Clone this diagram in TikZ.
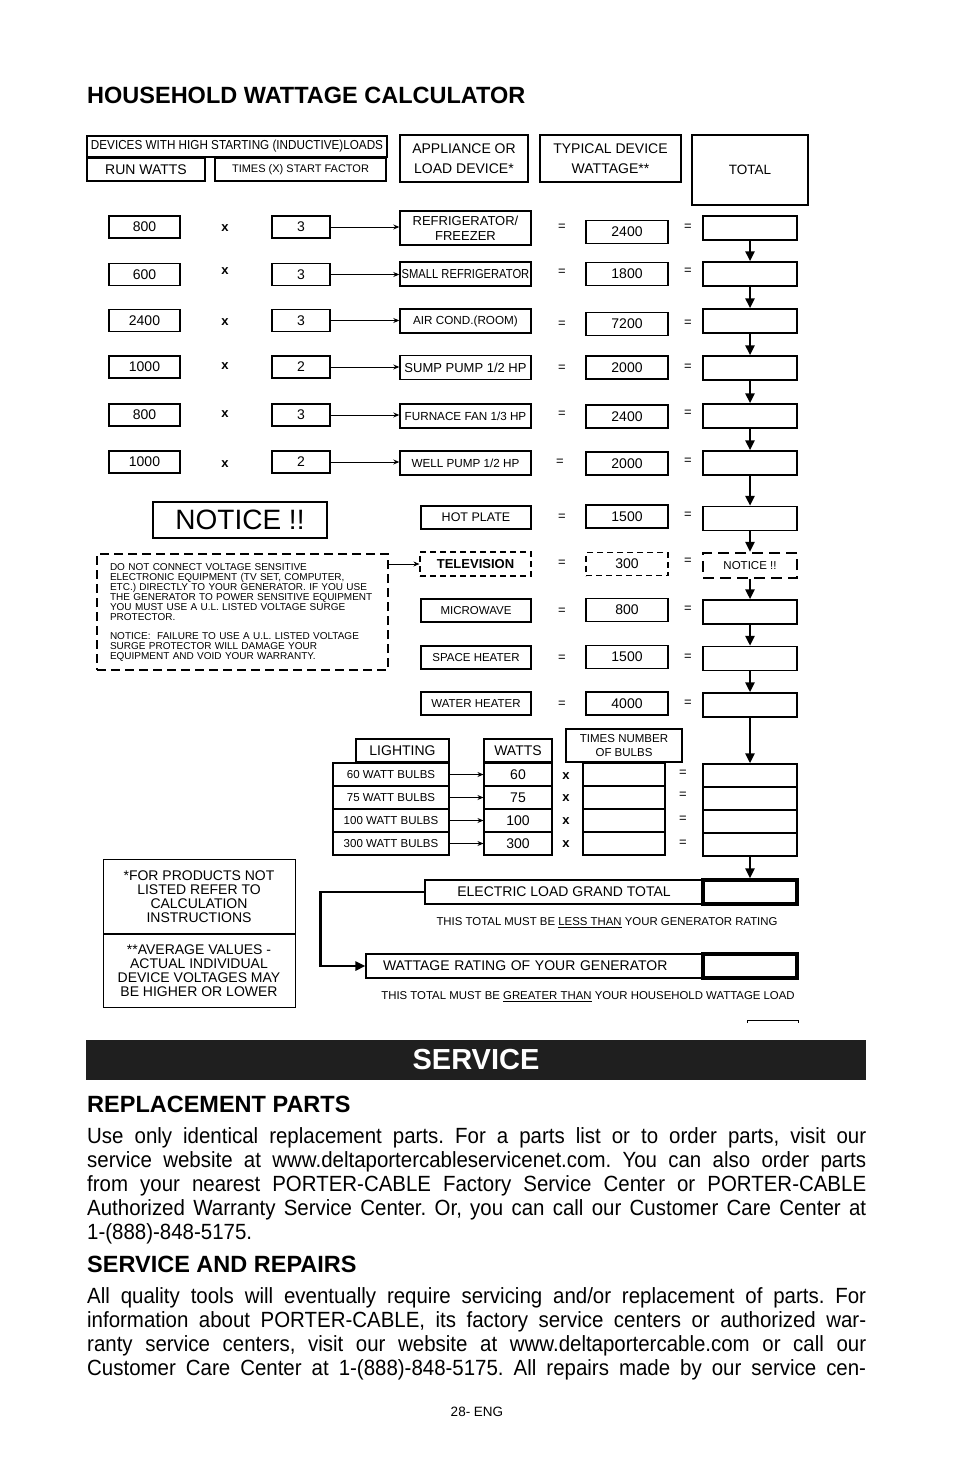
\documentclass[tikz,border=0pt]{standalone}
\usepackage{fontspec}
\setmainfont{Liberation Sans}
\newfontfamily\condfont[FakeStretch=0.93]{Liberation Sans}
\usepackage{graphicx}
\usetikzlibrary{arrows.meta, positioning}
\newcommand{\fsz}[2]{\fontsize{#1}{#2}\selectfont}
\frenchspacing
\tikzset{
  box/.style={draw, line width=1.1pt, inner sep=1pt, align=center},
  runbox/.style={box, minimum width=71pt, minimum height=22pt, font=\fsz{14}{16}},
  facbox/.style={box, minimum width=58pt, minimum height=22pt, font=\fsz{14}{16}},
  appbox/.style={box, line width=1.4pt, minimum width=131pt, minimum height=24pt, font=\fsz{11.7}{14}},
  loadbox/.style={box, line width=1.4pt, minimum width=110pt, minimum height=23pt, font=\fsz{11.5}{14}},
  wattbox/.style={box, minimum width=82pt, minimum height=23pt, font=\fsz{14}{16}},
  totbox/.style={box, line width=1.5pt, minimum width=94pt, minimum height=24pt},
  bulbbox/.style={box, minimum width=116pt, minimum height=23pt, font=\fsz{11.5}{14}},
  bwbox/.style={box, minimum width=68pt, minimum height=23pt, font=\fsz{14}{16}},
  numbox/.style={box, minimum width=82pt, minimum height=23pt},
  sign/.style={inner sep=0pt, font=\fsz{13}{13}},
  times/.style={inner sep=0pt, font=\bfseries\fsz{13}{13}},
  feed/.style={-{Stealth[length=6pt,width=5pt]}, line width=0.9pt},
  sumline/.style={-{Triangle[length=10pt,width=9pt]}, line width=2.4pt},
  tvdash/.style={dash pattern=on 6pt off 4pt},
  bodyline/.style={anchor=base west, inner sep=0pt, font=\condfont\fsz{22}{24}},
  headline/.style={anchor=base west, inner sep=0pt, font=\bfseries\fsz{23.5}{24}},
}
\begin{document}
\begin{tikzpicture}[x=1pt, y=-1pt]
    \fill[white] (0,0) rectangle (954,1475);
    \useasboundingbox (0,0) rectangle (954,1475);

    % --- TITLE ---
    \node[headline] (title) at (87,103) {HOUSEHOLD WATTAGE CALCULATOR};

    % --- COLUMN HEADERS ---
    \node[box, minimum width=300pt, minimum height=21pt, font=\fsz{13}{13}] (hdev) at (237,146.5) {\scalebox{0.9}[1]{DEVICES WITH HIGH STARTING (INDUCTIVE)LOADS}};
    \node[box, minimum width=118pt, minimum height=23pt, font=\fsz{14}{14}] (hrun) at (146,169.5) {RUN WATTS};
    \node[box, minimum width=171pt, minimum height=23pt, font=\fsz{11}{11}] (hstart) at (300.5,169.5) {TIMES (X) START FACTOR};
    \node[box, line width=1.4pt, minimum width=128pt, minimum height=47pt, font=\fsz{14}{20}] (happ) at (464,158.5) {APPLIANCE OR\\LOAD DEVICE*};
    \node[box, line width=1.4pt, minimum width=141pt, minimum height=47pt, font=\fsz{14}{20}] (hwatt) at (610.5,158.5) {TYPICAL DEVICE\\WATTAGE**};
    \node[box, line width=1.4pt, minimum width=116pt, minimum height=70pt, font=\fsz{13.5}{14}] (htot) at (750,170) {TOTAL};

    % --- INDUCTIVE LOADS ---
    % Refrigerator
    \node[runbox] (run1) at (144.5,227) {800};
    \node[times] (x1) at (225,228) {x};
    \node[facbox] (fac1) at (301,227) {3};
    \node[appbox, minimum height=34pt, font=\fsz{13}{15}] (app1) at (465.5,228) {REFRIGERATOR/\\FREEZER};
    \node[sign] (eqa1) at (562,227) {=};
    \node[wattbox] (watt1) at (627,232) {2400};
    \node[sign] (eqb1) at (688,227) {=};
    \node[totbox] (tot1) at (750,228) {};
    \draw[feed] (fac1.east) -- (fac1.east -| app1.west);

    % Small refrigerator
    \node[runbox] (run2) at (144.5,274.5) {600};
    \node[times] (x2) at (225,271) {x};
    \node[facbox] (fac2) at (301,274.5) {3};
    \node[appbox] (app2) at (465.5,274) {\scalebox{0.86}[1]{\fsz{13}{15}SMALL REFRIGERATOR}};
    \node[sign] (eqa2) at (562,272) {=};
    \node[wattbox] (watt2) at (627,274) {1800};
    \node[sign] (eqb2) at (688,271) {=};
    \node[totbox] (tot2) at (750,274) {};
    \draw[feed] (fac2.east) -- (fac2.east -| app2.west);

    % Air conditioner
    \node[runbox] (run3) at (144.5,320.5) {2400};
    \node[times] (x3) at (225,322) {x};
    \node[facbox] (fac3) at (301,320.5) {3};
    \node[appbox] (app3) at (465.5,321) {AIR COND.(ROOM)};
    \node[sign] (eqa3) at (562,324) {=};
    \node[wattbox] (watt3) at (627,324) {7200};
    \node[sign] (eqb3) at (688,323) {=};
    \node[totbox] (tot3) at (750,321) {};
    \draw[feed] (fac3.east) -- (fac3.east -| app3.west);

    % Sump pump
    \node[runbox] (run4) at (144.5,367) {1000};
    \node[times] (x4) at (225,366) {x};
    \node[facbox] (fac4) at (301,367) {2};
    \node[appbox, font=\fsz{13}{15}] (app4) at (465.5,367.5) {SUMP PUMP 1/2 HP};
    \node[sign] (eqa4) at (562,368) {=};
    \node[wattbox] (watt4) at (627,367.5) {2000};
    \node[sign] (eqb4) at (688,367) {=};
    \node[totbox] (tot4) at (750,368) {};
    \draw[feed] (fac4.east) -- (fac4.east -| app4.west);

    % Furnace fan
    \node[runbox] (run5) at (144.5,415) {800};
    \node[times] (x5) at (225,414) {x};
    \node[facbox] (fac5) at (301,415) {3};
    \node[appbox] (app5) at (465.5,416) {FURNACE FAN 1/3 HP};
    \node[sign] (eqa5) at (562,414) {=};
    \node[wattbox] (watt5) at (627,416.5) {2400};
    \node[sign] (eqb5) at (688,413) {=};
    \node[totbox] (tot5) at (750,416) {};
    \draw[feed] (fac5.east) -- (fac5.east -| app5.west);

    % Well pump
    \node[runbox] (run6) at (144.5,462) {1000};
    \node[times] (x6) at (225,464) {x};
    \node[facbox] (fac6) at (301,462) {2};
    \node[appbox] (app6) at (465.5,463) {WELL PUMP 1/2 HP};
    \node[sign] (eqa6) at (560,462) {=};
    \node[wattbox] (watt6) at (627,463.5) {2000};
    \node[sign] (eqb6) at (688,461) {=};
    \node[totbox] (tot6) at (750,463) {};
    \draw[feed] (fac6.east) -- (fac6.east -| app6.west);

    % --- RESISTIVE LOADS ---
    \node[loadbox, font=\fsz{12.5}{14}] (hot) at (476,517.5) {HOT PLATE};
    \node[sign] (eqa7) at (562,517) {=};
    \node[wattbox] (watt7) at (627,516.5) {1500};
    \node[sign] (eqb7) at (688,515) {=};
    \node[totbox] (tot7) at (750,518.5) {};

    \node[loadbox, tvdash, line width=1.1pt, minimum width=111pt, minimum height=24pt, font=\bfseries\fsz{13}{14}] (tv) at (475.5,564) {TELEVISION};
    \node[sign] (eqa8) at (562,563) {=};
    \node[wattbox, tvdash] (watt8) at (627,564) {300};
    \node[sign] (eqb8) at (688,561) {=};
    \node[totbox, line width=2.4pt, dash pattern=on 11pt off 6pt, minimum height=25pt, font=\fsz{11.5}{12}] (tot8) at (750,565.5) {NOTICE !!};

    \node[loadbox] (micro) at (476,610.5) {MICROWAVE};
    \node[sign] (eqa9) at (562,611) {=};
    \node[wattbox] (watt9) at (627,610) {800};
    \node[sign] (eqb9) at (688,609) {=};
    \node[totbox] (tot9) at (750,612) {};

    \node[loadbox] (space) at (476,657.5) {SPACE HEATER};
    \node[sign] (eqa10) at (562,658) {=};
    \node[wattbox] (watt10) at (627,657) {1500};
    \node[sign] (eqb10) at (688,657) {=};
    \node[totbox] (tot10) at (750,658.5) {};

    \node[loadbox] (water) at (476,703.5) {WATER HEATER};
    \node[sign] (eqa11) at (562,704) {=};
    \node[wattbox] (watt11) at (627,703.5) {4000};
    \node[sign] (eqb11) at (688,703) {=};
    \node[totbox] (tot11) at (750,705) {};

    % --- NOTICE ---
    \node[box, line width=1.6pt, minimum width=174pt, minimum height=36pt, font=\fsz{28}{28}] (notice) at (240,520) {NOTICE !!};
    \node[box, line width=1.6pt, dash pattern=on 9pt off 5pt, minimum width=291pt, minimum height=116pt, text width=265pt, align=left, font=\fsz{10}{10}] (warn) at (242.5,612) {DO NOT CONNECT VOLTAGE SENSITIVE\\
ELECTRONIC EQUIPMENT (TV SET, COMPUTER,\\
ETC.) DIRECTLY TO YOUR GENERATOR. IF YOU USE\\
THE GENERATOR TO POWER SENSITIVE EQUIPMENT\\
YOU MUST USE A U.L. LISTED VOLTAGE SURGE\\
PROTECTOR.\\[9pt]
NOTICE:\ \ FAILURE TO USE A U.L. LISTED VOLTAGE\\
SURGE PROTECTOR WILL DAMAGE YOUR\\
EQUIPMENT AND VOID YOUR WARRANTY.};
    \draw[feed] (warn.east |- tv.west) -- (tv.west);

    % --- LIGHTING ---
    \node[box, minimum width=93pt, minimum height=23pt, font=\fsz{14}{14}] (hlight) at (402.5,750.5) {LIGHTING};
    \node[box, minimum width=68pt, minimum height=23pt, font=\fsz{14}{14}] (hbw) at (518,750.5) {WATTS};
    \node[box, minimum width=116pt, minimum height=33pt, font=\fsz{11.5}{14}] (hnum) at (624,745.5) {TIMES NUMBER\\OF BULBS};

    \node[bulbbox] (b60) at (391,774.5) {60 WATT BULBS};
    \node[bulbbox] (b75) at (391,797.5) {75 WATT BULBS};
    \node[bulbbox] (b100) at (391,820.5) {100 WATT BULBS};
    \node[bulbbox] (b300) at (391,843.5) {300 WATT BULBS};

    \node[bwbox] (w60) at (518,774.5) {60};
    \node[bwbox] (w75) at (518,797.5) {75};
    \node[bwbox] (w100) at (518,820.5) {100};
    \node[bwbox] (w300) at (518,843.5) {300};
    \draw[feed] (b60.east) -- (w60.west);
    \draw[feed] (b75.east) -- (w75.west);
    \draw[feed] (b100.east) -- (w100.west);
    \draw[feed] (b300.east) -- (w300.west);

    \node[times] (xl1) at (566,776) {x};
    \node[times] (xl2) at (566,798) {x};
    \node[times] (xl3) at (566,821) {x};
    \node[times] (xl4) at (566,844) {x};

    \node[numbox] (n60) at (624,774.5) {};
    \node[numbox] (n75) at (624,797.5) {};
    \node[numbox] (n100) at (624,820.5) {};
    \node[numbox] (n300) at (624,843.5) {};

    \node[sign] (eql1) at (683,773) {=};
    \node[sign] (eql2) at (683,795) {=};
    \node[sign] (eql3) at (683,819) {=};
    \node[sign] (eql4) at (683,843) {=};

    \node[totbox, minimum height=23pt] (lt60) at (750,775.5) {};
    \node[totbox, minimum height=23pt] (lt75) at (750,798.5) {};
    \node[totbox, minimum height=23pt] (lt100) at (750,821.5) {};
    \node[totbox, minimum height=23pt] (lt300) at (750,844.5) {};

    % --- RUNNING TOTAL ---
    \draw[sumline] (tot1.south) -- (tot2.north);
    \draw[sumline] (tot2.south) -- (tot3.north);
    \draw[sumline] (tot3.south) -- (tot4.north);
    \draw[sumline] (tot4.south) -- (tot5.north);
    \draw[sumline] (tot5.south) -- (tot6.north);
    \draw[sumline] (tot6.south) -- (tot7.north);
    \draw[sumline] (tot7.south) -- (tot8.north);
    \draw[sumline] (tot8.south) -- (tot9.north);
    \draw[sumline] (tot9.south) -- (tot10.north);
    \draw[sumline] (tot10.south) -- (tot11.north);
    \draw[sumline] (tot11.south) -- (lt60.north);

    % --- GRAND TOTAL ---
    \node[box, minimum width=278pt, minimum height=24pt, font=\fsz{14}{14}] (gtl) at (564,892) {ELECTRIC LOAD GRAND TOTAL};
    \node[box, line width=3.2pt, minimum width=94pt, minimum height=24pt] (gtot) at (750,892) {};
    \draw[sumline] (lt300.south) -- (gtot.north);
    \node[font=\fsz{11.4}{12}] (lessnote) at (607,923) {THIS TOTAL MUST BE \underline{LESS THAN} YOUR GENERATOR RATING};

    \node[box, minimum width=337pt, minimum height=24pt, text width=303pt, align=left, font=\fsz{14}{14}] (rate) at (534.5,966) {WATTAGE RATING OF YOUR GENERATOR};
    \node[box, line width=3.2pt, minimum width=94pt, minimum height=24pt] (rtot) at (750,966) {};
    \node[font=\fsz{11.4}{12}] (morenote) at (588,997) {THIS TOTAL MUST BE \underline{GREATER THAN} YOUR HOUSEHOLD WATTAGE LOAD};
    \draw[line width=2.6pt, -{Triangle[length=10pt,width=9pt]}] (gtl.west) -- ++(-104,0) |- (rate.west);
    \draw[line width=1pt] (747,1023) -- (747,1020) -- (798,1020) -- (798,1023);

    % --- FOOTNOTES ---
    \node[box, line width=1pt, minimum width=192pt, minimum height=75pt, font=\fsz{14}{14}] (fnote) at (199,896.5) {*FOR PRODUCTS NOT\\LISTED REFER TO\\CALCULATION\\INSTRUCTIONS};
    \node[box, line width=1pt, minimum width=192pt, minimum height=74pt, font=\fsz{14}{14}] (anote) at (199,970.5) {**AVERAGE VALUES -\\ACTUAL INDIVIDUAL\\DEVICE VOLTAGES MAY\\BE HIGHER OR LOWER};

    % --- SERVICE ---
    \node[fill=black!88, minimum width=780pt, minimum height=40pt, inner sep=0pt, text=white, font=\bfseries\fsz{29}{29}] (service) at (476,1060) {SERVICE};

    \node[headline] (rphead) at (87,1112) {REPLACEMENT PARTS};
    \node[bodyline] (rp1) at (87,1143) {\makebox[779pt][s]{Use only identical replacement parts. For a parts list or to order parts, visit our}};
    \node[bodyline] (rp2) at (87,1167) {\makebox[779pt][s]{service website at www.deltaportercableservicenet.com. You can also order parts}};
    \node[bodyline] (rp3) at (87,1191) {\makebox[779pt][s]{from your nearest PORTER-CABLE Factory Service Center or PORTER-CABLE}};
    \node[bodyline] (rp4) at (87,1215) {\makebox[779pt][s]{Authorized Warranty Service Center. Or, you can call our Customer Care Center at}};
    \node[bodyline] (rp5) at (87,1239) {1-(888)-848-5175.};

    \node[headline] (srhead) at (87,1272) {SERVICE AND REPAIRS};
    \node[bodyline] (sr1) at (87,1303) {\makebox[779pt][s]{All quality tools will eventually require servicing and/or replacement of parts. For}};
    \node[bodyline] (sr2) at (87,1327) {\makebox[779pt][s]{information about PORTER-CABLE, its factory service centers or authorized war-}};
    \node[bodyline] (sr3) at (87,1351) {\makebox[779pt][s]{ranty service centers, visit our website at www.deltaportercable.com or call our}};
    \node[bodyline] (sr4) at (87,1375) {\makebox[779pt][s]{Customer Care Center at 1-(888)-848-5175. All repairs made by our service cen-}};

    \node[font=\fsz{13.5}{14}] (page) at (477,1412) {28- ENG};
\end{tikzpicture}
\end{document}
